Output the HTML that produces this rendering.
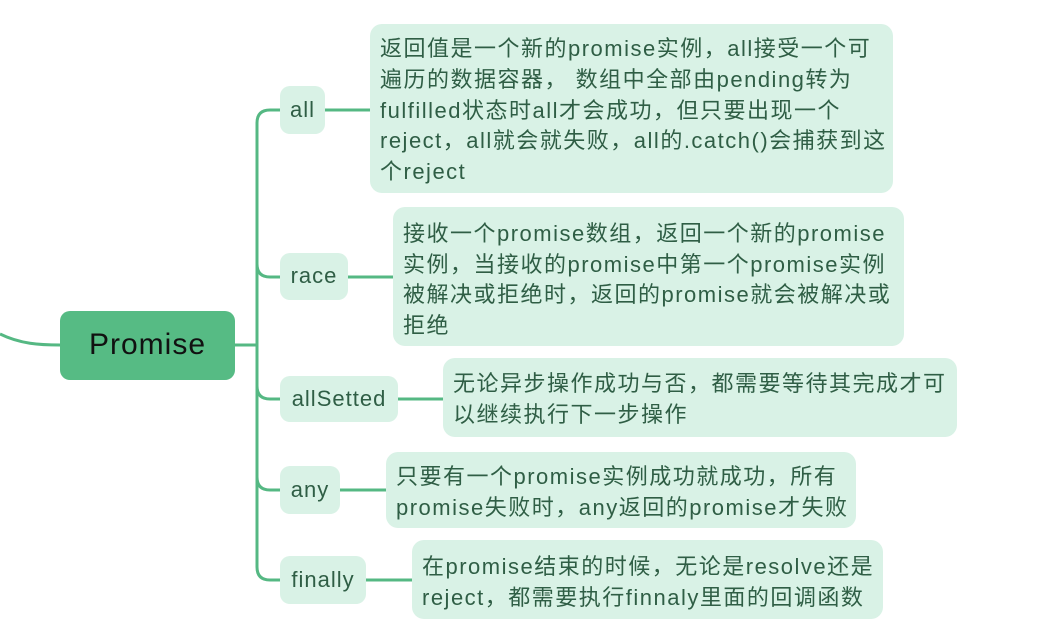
<!DOCTYPE html>
<html><head><meta charset="utf-8"><style>
body{margin:0;width:1046px;height:636px;background:#fff;position:relative;overflow:hidden;font-family:"Liberation Sans","Noto Sans CJK SC",sans-serif;}
.b{position:absolute;background:#d9f2e6;border-radius:12px;color:#2f5e45;font-size:22px;letter-spacing:1.5px;line-height:30.5px;white-space:nowrap;box-sizing:border-box;}
.l{display:flex;align-items:center;justify-content:center;border-radius:10px;letter-spacing:1px;}
.d{padding:10px 8px 0 10px;}
svg{position:absolute;left:0;top:0;}
</style></head><body>
<svg width="1046" height="636" fill="none" stroke="#55b883" stroke-width="3">
<path d="M0 334 C20 344 40 345 60 345"/>
<path d="M235 345 H256"/>
<path d="M280 110 H270 Q257 110 257 123 V567 Q257 580 270 580 H280"/>
<path d="M257 264 Q257 277 270 277 H280"/>
<path d="M257 386 Q257 399 270 399 H280"/>
<path d="M257 477 Q257 490 270 490 H280"/>
<path d="M325 110 H370"/>
<path d="M348 277 H393"/>
<path d="M398 399 H443"/>
<path d="M340 490 H386"/>
<path d="M366 580 H412"/>
</svg>
<div class="b l" style="left:60px;top:311px;width:175px;height:69px;background:#56bb84;color:#111;font-size:30px;">Promise</div>
<div class="b l" style="left:280px;top:86px;width:45px;height:48px;">all</div>
<div class="b l" style="left:280px;top:253px;width:68px;height:47px;">race</div>
<div class="b l" style="left:280px;top:376px;width:118px;height:46px;">allSetted</div>
<div class="b l" style="left:280px;top:466px;width:60px;height:48px;">any</div>
<div class="b l" style="left:280px;top:556px;width:86px;height:48px;">finally</div>
<div class="b d" style="left:370px;top:24px;width:523px;height:169px;padding-top:10px;line-height:30.8px;">返回值是一个新的promise实例，all接受一个可<br>遍历的数据容器， 数组中全部由pending转为<br>fulfilled状态时all才会成功，但只要出现一个<br>reject，all就会就失败，all的.catch()会捕获到这<br>个reject</div>
<div class="b d" style="left:393px;top:207px;width:511px;height:139px;padding-top:12px;">接收一个promise数组，返回一个新的promise<br>实例，当接收的promise中第一个promise实例<br>被解决或拒绝时，返回的promise就会被解决或<br>拒绝</div>
<div class="b d" style="left:443px;top:358px;width:514px;height:79px;padding-top:11px;">无论异步操作成功与否，都需要等待其完成才可<br>以继续执行下一步操作</div>
<div class="b d" style="left:386px;top:452px;width:470px;height:76px;padding-top:10px;">只要有一个promise实例成功就成功，所有<br>promise失败时，any返回的promise才失败</div>
<div class="b d" style="left:412px;top:540px;width:471px;height:79px;padding-top:12px;">在promise结束的时候，无论是resolve还是<br>reject，都需要执行finnaly里面的回调函数</div>
</body></html>
